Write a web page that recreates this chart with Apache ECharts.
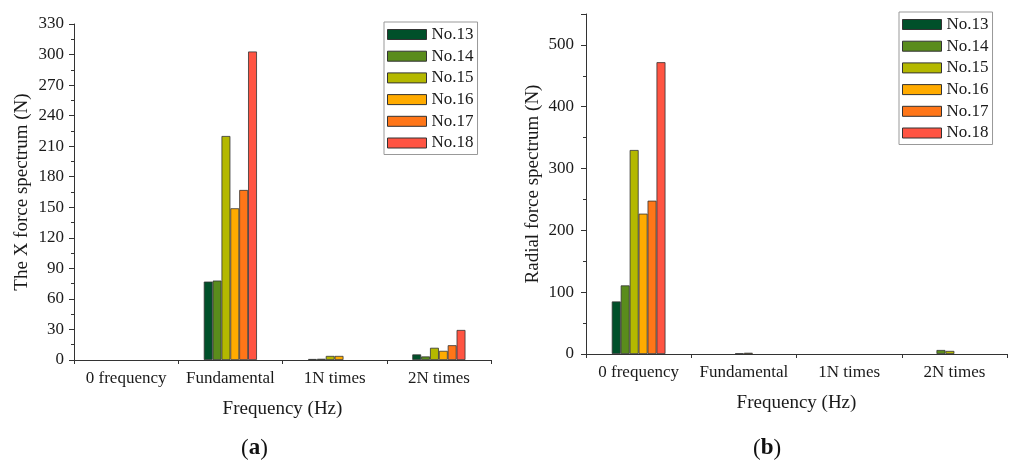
<!DOCTYPE html>
<html>
<head>
<meta charset="utf-8">
<script src="https://cdn.jsdelivr.net/npm/echarts@6/dist/echarts.min.js"></script>
<style>html,body{margin:0;padding:0;background:#fff}#c{width:1011px;height:463px}</style>
</head>
<body>
<div id="c"></div>
<script>
const categories = ['0 frequency', 'Fundamental', '1N times', '2N times'];
const seriesNames = ['No.13', 'No.14', 'No.15', 'No.16', 'No.17', 'No.18'];
const colors = ['#00502a', '#5a8c1c', '#b4b800', '#ffab00', '#ff7618', '#ff5442'];
// (a) X force spectrum (N)
const xForce = {
  'No.13': [0, 77, 1, 5.5],
  'No.14': [0, 78, 1.2, 3.5],
  'No.15': [0, 220, 4, 12],
  'No.16': [0, 149, 4, 9],
  'No.17': [0, 167, 0, 14.5],
  'No.18': [0, 303, 0, 29.5]
};
// (b) Radial force spectrum (N)
const radialForce = {
  'No.13': [85, 0, 0, 0],
  'No.14': [111, 0, 0, 6.5],
  'No.15': [330, 1, 0, 5],
  'No.16': [227, 2, 0, 0],
  'No.17': [248, 0, 0, 0],
  'No.18': [472, 0, 0, 0]
};
const yTicksA = {min: 0, max: 330, interval: 30};
const yTicksB = {min: 0, max: 550, interval: 100};

const FONT = 'Liberation Serif';
const TXT = '#1a1a1a';
const chart = echarts.init(document.getElementById('c'));

function xAxes(gridIndex) {
  return [
    {
      type: 'category', gridIndex, data: categories, position: 'bottom',
      name: 'Frequency (Hz)', nameLocation: 'middle', nameGap: 40,
      nameTextStyle: {fontFamily: FONT, fontSize: 19, color: TXT},
      axisLine: {lineStyle: {color: '#333', width: 1}},
      axisTick: {alignWithLabel: true, length: 7, lineStyle: {color: '#333'}},
      axisLabel: {fontFamily: FONT, fontSize: 17, color: TXT, margin: 10, interval: 0},
      splitLine: {show: false}
    },
    {
      type: 'category', gridIndex, data: categories, position: 'bottom',
      axisLine: {show: false},
      axisTick: {show: true, alignWithLabel: false, length: 4, lineStyle: {color: '#333'}},
      axisLabel: {show: false}, splitLine: {show: false}
    }
  ];
}
function yAxis(gridIndex, ticks, name, margin, gap) {
  return {
    type: 'value', gridIndex, min: ticks.min, max: ticks.max, interval: ticks.interval,
    name, nameLocation: 'middle', nameGap: gap,
    nameTextStyle: {fontFamily: FONT, fontSize: 19, color: TXT},
    axisLine: {show: true, lineStyle: {color: '#333', width: 1}},
    axisTick: {show: true, inside: false, length: 5, lineStyle: {color: '#333'}},
    minorTick: {show: true, splitNumber: 2, length: 3, lineStyle: {color: '#333'}},
    axisLabel: {fontFamily: FONT, fontSize: 17, color: TXT, margin,
      showMaxLabel: ticks.max % ticks.interval === 0},
    splitLine: {show: false}
  };
}
function legend(left, top) {
  return {
    data: seriesNames, orient: 'vertical', left, top,
    itemWidth: 39, itemHeight: 10, itemGap: 4.7,
    padding: [4, 4, 3, 3],
    borderColor: '#999', borderWidth: 1,
    icon: 'rect',
    itemStyle: {borderColor: '#333', borderWidth: 1},
    textStyle: {fontFamily: FONT, fontSize: 17, color: TXT, lineHeight: 17},
    selectedMode: false
  };
}
function bars(data, xIdx, yIdx) {
  return seriesNames.map((n, i) => ({
    name: n, type: 'bar', xAxisIndex: xIdx, yAxisIndex: yIdx,
    data: data[n].map(v => (v === 0 ? '-' : v)), barGap: '0%', barCategoryGap: '49%',
    itemStyle: {color: colors[i], borderColor: '#333', borderWidth: 0.8},
    silent: true
  }));
}

chart.setOption({
  animation: false,
  color: colors,
  grid: [
    {left: 74, top: 24, width: 417, height: 336},
    {left: 586, top: 14, width: 421, height: 340}
  ],
  xAxis: [...xAxes(0), ...xAxes(1)],
  yAxis: [
    yAxis(0, yTicksA, 'The X force spectrum (N)', 10, 42),
    yAxis(1, yTicksB, 'Radial force spectrum (N)', 12, 43)
  ],
  legend: [legend(384, 22), legend(899, 12)],
  series: [...bars(xForce, 0, 0), ...bars(radialForce, 2, 1)],
  graphic: [
    {type: 'text', left: 241, top: 437, style: {text: '({b|a})', fontFamily: FONT, fontSize: 23, fill: '#111',
      rich: {b: {fontFamily: FONT, fontSize: 23, fontWeight: 'bold', fill: '#111'}}}},
    {type: 'text', left: 753, top: 437, style: {text: '({b|b})', fontFamily: FONT, fontSize: 23, fill: '#111',
      rich: {b: {fontFamily: FONT, fontSize: 23, fontWeight: 'bold', fill: '#111'}}}}
  ]
});
</script>
</body>
</html>
